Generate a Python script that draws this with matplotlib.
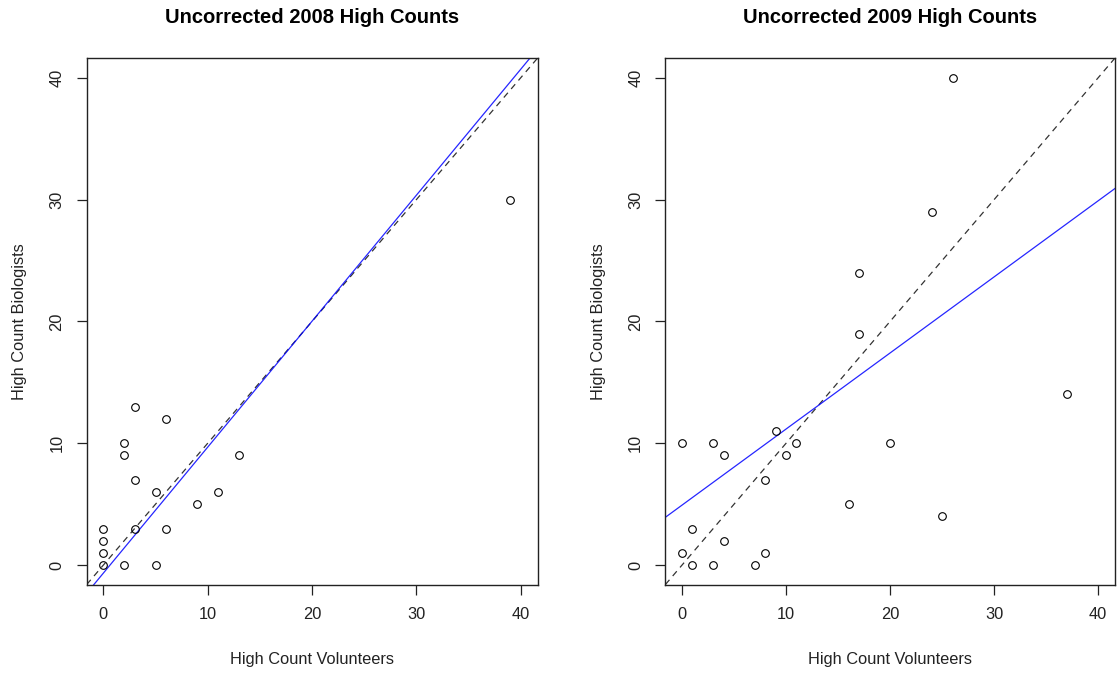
import matplotlib.pyplot as plt
import numpy as np

plt.rcParams['font.family'] = ['Liberation Sans', 'DejaVu Sans']

# 2008 high counts (volunteers vs biologists)
vol_2008 = [0, 0, 0, 0, 2, 5, 3, 6, 9, 5, 11, 3, 2, 13, 2, 6, 3, 39]
bio_2008 = [0, 1, 2, 3, 0, 0, 3, 3, 5, 6, 6, 7, 9, 9, 10, 12, 13, 30]

# 2009 high counts
vol_2009 = [0, 3, 4, 9, 10, 11, 20, 8, 16, 1, 4, 0, 8, 1, 3, 7, 17, 17, 24, 26, 25, 37]
bio_2009 = [10, 10, 9, 11, 9, 10, 10, 7, 5, 3, 2, 1, 1, 0, 0, 0, 24, 19, 29, 40, 4, 14]

# fitted lines (intercept, slope) as drawn in the original
fit_2008 = (-0.66, 1.034)
fit_2009 = (4.92, 0.6245)

titles = ['Uncorrected 2008 High Counts', 'Uncorrected 2009 High Counts']
ticks = [0, 10, 20, 30, 40]
lims = (-1.6, 41.6)

fig = plt.figure(figsize=(11.17, 6.75), dpi=100)
ax1 = fig.add_axes([0.0776, 0.134, 0.4036, 0.7798])
ax2 = fig.add_axes([0.5957, 0.134, 0.4024, 0.7798])

for ax, x, y, fit, title in [(ax1, vol_2008, bio_2008, fit_2008, titles[0]),
                             (ax2, vol_2009, bio_2009, fit_2009, titles[1])]:
    ax.plot(x, y, 'o', mfc='none', mec='black', ms=5.5, mew=0.8, zorder=3)
    xx = np.array(lims)
    ax.plot(xx, xx, color='black', ls=(0, (5, 4)), lw=0.9, alpha=0.8)
    ax.plot(xx, fit[0] + fit[1] * xx, color='blue', lw=0.9, alpha=0.85)
    ax.set_xlim(lims)
    ax.set_ylim(lims)
    ax.set_xticks(ticks)
    ax.set_yticks(ticks)
    ax.set_yticklabels([str(t) for t in ticks], rotation=90, va='center')
    ax.tick_params(direction='out', length=7, width=0.9, labelsize=11.8,
                   colors='#222222', pad=9)
    for s in ax.spines.values():
        s.set_linewidth(1.0)
        s.set_color('#222222')
    ax.set_xlabel('High Count Volunteers', fontsize=11.8, color='#222222', labelpad=22)
    ax.set_ylabel('High Count Biologists', fontsize=11.8, color='#222222', labelpad=16)
    ax.set_title(title, fontsize=14.5, fontweight='bold', pad=25)

fig.savefig('out.png', dpi=100)
